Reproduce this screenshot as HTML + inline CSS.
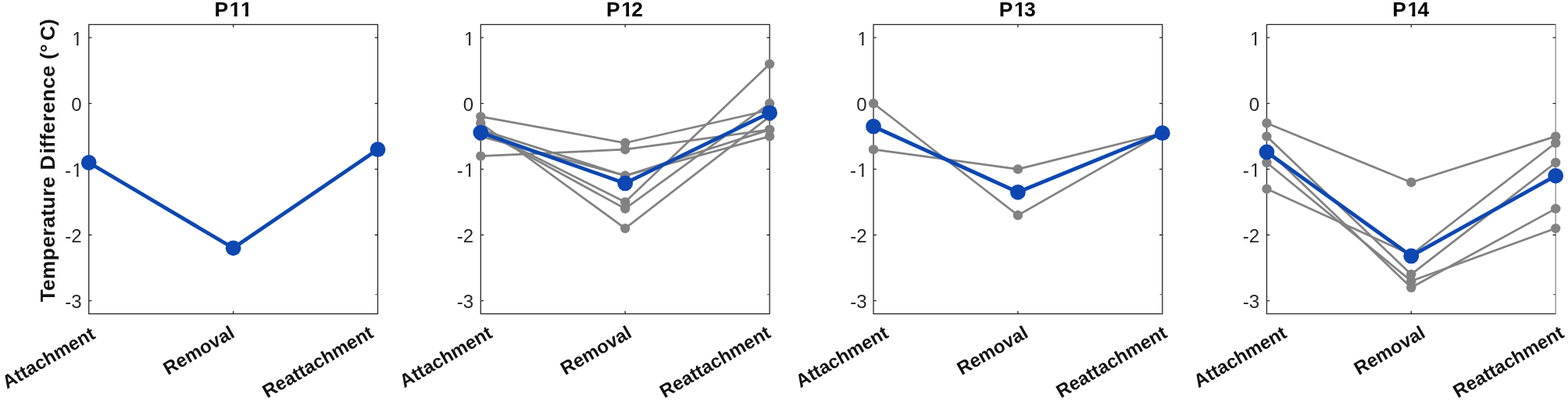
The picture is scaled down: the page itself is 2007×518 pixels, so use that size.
<!DOCTYPE html>
<html lang="en">
<head>
<meta charset="utf-8">
<title>Temperature Difference P11-P14</title>
<style>
html,body{margin:0;padding:0;background:#fff;}
body{width:2007px;height:518px;overflow:hidden;}
svg{display:block;}
text{font-family:"Liberation Sans",sans-serif;}
.tk{font-size:24px;fill:#262626;}
.tt{font-size:26.4px;font-weight:bold;fill:#000;}
.xt{font-size:24px;font-weight:bold;fill:#111;}
.yl{font-size:26.4px;font-weight:bold;fill:#111;}
.ax{stroke:#262626;stroke-width:1.3;fill:none;}
.g{stroke:#828282;stroke-width:2.7;fill:none;stroke-linejoin:round;}
.gd{fill:#828282;}
.b{stroke:#0d47b1;stroke-width:4.8;fill:none;stroke-linejoin:round;}
.bd{fill:#0d47b1;}
</style>
</head>
<body>
<svg width="2007" height="518" viewBox="0 0 2007 518">
<defs>
<clipPath id="k1r" clipPathUnits="userSpaceOnUse"><path d="M-1 -20H14V-2.6H8.4V1H5.8V-2.6H-1Z"/></clipPath>
<clipPath id="km1" clipPathUnits="userSpaceOnUse"><path d="M-1 -20H24V-2.6H17.5V1H14.9V-2.6H-1Z"/></clipPath>
<clipPath id="kt1x" clipPathUnits="userSpaceOnUse"><path d="M-1 -22H50V6H33.05V-3.5H29.2V1H25.1V-3.5H19.4V6H-1Z"/></clipPath>
<clipPath id="kt14" clipPathUnits="userSpaceOnUse"><path d="M-1 -22H50V6H38V-3.5H29.2V1H25.1V-3.5H19.4V6H-1Z"/></clipPath>
<clipPath id="kt11" clipPathUnits="userSpaceOnUse"><path d="M-1 -22H50V-3.5H43.4V1H39.3V-3.5H29.2V1H25.1V-3.5H19.4V6H-1Z"/></clipPath>
</defs>
<rect x="0" y="0" width="2007" height="518" fill="#ffffff"/>
<text class="yl" transform="translate(70.2 0) rotate(-90)"><tspan x="-386.3" letter-spacing="0.25">Temperature</tspan> <tspan x="-217.4">D</tspan><tspan x="-196.6" letter-spacing="0.35">ifference</tspan> <tspan x="-76.0">(</tspan><tspan x="-67.0">°</tspan><tspan x="-52.1">C</tspan><tspan x="-32.9">)</tspan></text>
<g>
<text class="tt" transform="translate(274.5 21.4)" clip-path="url(#kt11)">P<tspan x="19.2">1</tspan><tspan x="33.4">1</tspan></text>
<rect class="ax" x="113.7" y="31.4" width="369.8" height="370.0"/>
<path class="ax" d="M113.7 48.2h3.7 M483.5 48.2h-3.7 M113.7 132.3h3.7 M483.5 132.3h-3.7 M113.7 216.4h3.7 M483.5 216.4h-3.7 M113.7 300.5h3.7 M483.5 300.5h-3.7 M113.7 384.6h3.7 M298.6 401.4v-3.7 M298.6 31.4v3.7"/>
<path class="ax" style="stroke:#6a6a6a" d="M483.5 376.6h-3.2"/>
<text class="tk" transform="translate(92.2 57.6)" clip-path="url(#k1r)">1</text>
<text class="tk" x="104.5" y="141.7" text-anchor="end">0</text>
<text class="tk" transform="translate(83.1 225.8)" clip-path="url(#km1)">-<tspan x="9.1">1</tspan></text>
<text class="tk" x="104.5" y="309.9" text-anchor="end">-2</text>
<text class="tk" x="104.5" y="394.0" text-anchor="end">-3</text>
<text class="xt" transform="translate(114.7 416.7) rotate(-30)" text-anchor="end" dy="0.72em">Attachment</text>
<text class="xt" transform="translate(293.1 415.2) rotate(-30)" text-anchor="end" dy="0.72em">Removal</text>
<text class="xt" transform="translate(470.9 415.2) rotate(-30)" text-anchor="end" dy="0.72em">Reattachment</text>
<polyline class="b" points="113.7,208.0 298.6,317.3 483.5,191.2"/>
<circle class="bd" cx="113.7" cy="208.0" r="9.9"/>
<circle class="bd" cx="298.6" cy="317.3" r="9.9"/>
<circle class="bd" cx="483.5" cy="191.2" r="9.9"/>
</g>
<g>
<text class="tt" transform="translate(776.1 21.4)" clip-path="url(#kt1x)">P<tspan x="19.2">1</tspan><tspan x="32.2">2</tspan></text>
<rect class="ax" x="615.3" y="31.4" width="369.8" height="370.0"/>
<path class="ax" d="M615.3 48.2h3.7 M985.1 48.2h-3.7 M615.3 132.3h3.7 M985.1 132.3h-3.7 M615.3 216.4h3.7 M985.1 216.4h-3.7 M615.3 300.5h3.7 M985.1 300.5h-3.7 M615.3 384.6h3.7 M800.2 401.4v-3.7 M800.2 31.4v3.7"/>
<path class="ax" style="stroke:#6a6a6a" d="M985.1 376.6h-3.2"/>
<text class="tk" transform="translate(593.9 57.6)" clip-path="url(#k1r)">1</text>
<text class="tk" x="606.2" y="141.7" text-anchor="end">0</text>
<text class="tk" transform="translate(584.8 225.8)" clip-path="url(#km1)">-<tspan x="9.1">1</tspan></text>
<text class="tk" x="606.2" y="309.9" text-anchor="end">-2</text>
<text class="tk" x="606.2" y="394.0" text-anchor="end">-3</text>
<text class="xt" transform="translate(623.1 415.5) rotate(-30)" text-anchor="end" dy="0.72em">Attachment</text>
<text class="xt" transform="translate(801.4 415.2) rotate(-30)" text-anchor="end" dy="0.72em">Removal</text>
<text class="xt" transform="translate(979.4 415.2) rotate(-30)" text-anchor="end" dy="0.72em">Reattachment</text>
<polyline class="g" points="615.3,149.1 800.2,182.8 985.1,140.7"/>
<polyline class="g" points="615.3,199.6 800.2,191.2 985.1,165.9"/>
<polyline class="g" points="615.3,165.9 800.2,224.8 985.1,165.9"/>
<polyline class="g" points="615.3,174.4 800.2,224.8 985.1,174.4"/>
<polyline class="g" points="615.3,165.9 800.2,258.4 985.1,81.9"/>
<polyline class="g" points="615.3,165.9 800.2,266.9 985.1,132.3"/>
<polyline class="g" points="615.3,157.5 800.2,292.1 985.1,149.1"/>
<circle class="gd" cx="615.3" cy="149.1" r="6.2"/>
<circle class="gd" cx="800.2" cy="182.8" r="6.2"/>
<circle class="gd" cx="985.1" cy="140.7" r="6.2"/>
<circle class="gd" cx="615.3" cy="199.6" r="6.2"/>
<circle class="gd" cx="800.2" cy="191.2" r="6.2"/>
<circle class="gd" cx="985.1" cy="165.9" r="6.2"/>
<circle class="gd" cx="615.3" cy="165.9" r="6.2"/>
<circle class="gd" cx="800.2" cy="224.8" r="6.2"/>
<circle class="gd" cx="985.1" cy="165.9" r="6.2"/>
<circle class="gd" cx="615.3" cy="174.4" r="6.2"/>
<circle class="gd" cx="800.2" cy="224.8" r="6.2"/>
<circle class="gd" cx="985.1" cy="174.4" r="6.2"/>
<circle class="gd" cx="615.3" cy="165.9" r="6.2"/>
<circle class="gd" cx="800.2" cy="258.4" r="6.2"/>
<circle class="gd" cx="985.1" cy="81.9" r="6.2"/>
<circle class="gd" cx="615.3" cy="165.9" r="6.2"/>
<circle class="gd" cx="800.2" cy="266.9" r="6.2"/>
<circle class="gd" cx="985.1" cy="132.3" r="6.2"/>
<circle class="gd" cx="615.3" cy="157.5" r="6.2"/>
<circle class="gd" cx="800.2" cy="292.1" r="6.2"/>
<circle class="gd" cx="985.1" cy="149.1" r="6.2"/>
<polyline class="b" points="615.3,169.6 800.2,234.4 985.1,144.3"/>
<circle class="bd" cx="615.3" cy="169.6" r="9.9"/>
<circle class="bd" cx="800.2" cy="234.4" r="9.9"/>
<circle class="bd" cx="985.1" cy="144.3" r="9.9"/>
</g>
<g>
<text class="tt" transform="translate(1278.8 21.4)" clip-path="url(#kt1x)">P<tspan x="19.2">1</tspan><tspan x="32.2">3</tspan></text>
<rect class="ax" x="1118.0" y="31.4" width="369.8" height="370.0"/>
<path class="ax" d="M1118.0 48.2h3.7 M1487.8 48.2h-3.7 M1118.0 132.3h3.7 M1487.8 132.3h-3.7 M1118.0 216.4h3.7 M1487.8 216.4h-3.7 M1118.0 300.5h3.7 M1487.8 300.5h-3.7 M1118.0 384.6h3.7 M1302.9 401.4v-3.7 M1302.9 31.4v3.7"/>
<path class="ax" style="stroke:#6a6a6a" d="M1487.8 376.6h-3.2"/>
<text class="tk" transform="translate(1097.2 57.6)" clip-path="url(#k1r)">1</text>
<text class="tk" x="1109.5" y="141.7" text-anchor="end">0</text>
<text class="tk" transform="translate(1088.1 225.8)" clip-path="url(#km1)">-<tspan x="9.1">1</tspan></text>
<text class="tk" x="1109.5" y="309.9" text-anchor="end">-2</text>
<text class="tk" x="1109.5" y="394.0" text-anchor="end">-3</text>
<text class="xt" transform="translate(1130.1 415.5) rotate(-30)" text-anchor="end" dy="0.72em">Attachment</text>
<text class="xt" transform="translate(1309.0 415.2) rotate(-30)" text-anchor="end" dy="0.72em">Removal</text>
<text class="xt" transform="translate(1486.8 415.2) rotate(-30)" text-anchor="end" dy="0.72em">Reattachment</text>
<polyline class="g" points="1118.0,132.3 1302.9,275.3 1487.8,170.2"/>
<polyline class="g" points="1118.0,191.2 1302.9,216.4 1487.8,170.2"/>
<circle class="gd" cx="1118.0" cy="132.3" r="6.2"/>
<circle class="gd" cx="1302.9" cy="275.3" r="6.2"/>
<circle class="gd" cx="1487.8" cy="170.2" r="6.2"/>
<circle class="gd" cx="1118.0" cy="191.2" r="6.2"/>
<circle class="gd" cx="1302.9" cy="216.4" r="6.2"/>
<circle class="gd" cx="1487.8" cy="170.2" r="6.2"/>
<polyline class="b" points="1118.0,161.7 1302.9,245.8 1487.8,170.2"/>
<circle class="bd" cx="1118.0" cy="161.7" r="9.9"/>
<circle class="bd" cx="1302.9" cy="245.8" r="9.9"/>
<circle class="bd" cx="1487.8" cy="170.2" r="9.9"/>
</g>
<g>
<text class="tt" transform="translate(1782.2 21.4)" clip-path="url(#kt14)">P<tspan x="19.2">1</tspan><tspan x="32.2">4</tspan></text>
<path class="ax" d="M1991.2 31.4H1621.4V401.4H1991.2"/>
<path class="ax" stroke="#8a8a8a" style="stroke:#8a8a8a" d="M1991.2 30.8V402.0"/>
<path class="ax" d="M1621.4 48.2h3.7 M1991.2 48.2h-3.7 M1621.4 132.3h3.7 M1991.2 132.3h-3.7 M1621.4 216.4h3.7 M1991.2 216.4h-3.7 M1621.4 300.5h3.7 M1991.2 300.5h-3.7 M1621.4 384.6h3.7 M1806.3 401.4v-3.7 M1806.3 31.4v3.7"/>
<path class="ax" style="stroke:#6a6a6a" d="M1991.2 376.6h-3.2"/>
<text class="tk" transform="translate(1599.9 57.6)" clip-path="url(#k1r)">1</text>
<text class="tk" x="1612.2" y="141.7" text-anchor="end">0</text>
<text class="tk" transform="translate(1590.8 225.8)" clip-path="url(#km1)">-<tspan x="9.1">1</tspan></text>
<text class="tk" x="1612.2" y="309.9" text-anchor="end">-2</text>
<text class="tk" x="1612.2" y="394.0" text-anchor="end">-3</text>
<text class="xt" transform="translate(1639.7 415.5) rotate(-30)" text-anchor="end" dy="0.72em">Attachment</text>
<text class="xt" transform="translate(1817.2 415.2) rotate(-30)" text-anchor="end" dy="0.72em">Removal</text>
<text class="xt" transform="translate(1994.7 415.2) rotate(-30)" text-anchor="end" dy="0.72em">Reattachment</text>
<polyline class="g" points="1621.4,157.5 1806.3,233.2 1991.2,174.4"/>
<polyline class="g" points="1621.4,241.6 1806.3,325.7 1991.2,182.8"/>
<polyline class="g" points="1621.4,174.4 1806.3,350.9 1991.2,208.0"/>
<polyline class="g" points="1621.4,191.2 1806.3,367.8 1991.2,266.9"/>
<polyline class="g" points="1621.4,208.0 1806.3,359.4 1991.2,292.1"/>
<circle class="gd" cx="1621.4" cy="157.5" r="6.2"/>
<circle class="gd" cx="1806.3" cy="233.2" r="6.2"/>
<circle class="gd" cx="1991.2" cy="174.4" r="6.2"/>
<circle class="gd" cx="1621.4" cy="241.6" r="6.2"/>
<circle class="gd" cx="1806.3" cy="325.7" r="6.2"/>
<circle class="gd" cx="1991.2" cy="182.8" r="6.2"/>
<circle class="gd" cx="1621.4" cy="174.4" r="6.2"/>
<circle class="gd" cx="1806.3" cy="350.9" r="6.2"/>
<circle class="gd" cx="1991.2" cy="208.0" r="6.2"/>
<circle class="gd" cx="1621.4" cy="191.2" r="6.2"/>
<circle class="gd" cx="1806.3" cy="367.8" r="6.2"/>
<circle class="gd" cx="1991.2" cy="266.9" r="6.2"/>
<circle class="gd" cx="1621.4" cy="208.0" r="6.2"/>
<circle class="gd" cx="1806.3" cy="359.4" r="6.2"/>
<circle class="gd" cx="1991.2" cy="292.1" r="6.2"/>
<polyline class="b" points="1621.4,194.5 1806.3,327.4 1991.2,224.8"/>
<circle class="bd" cx="1621.4" cy="194.5" r="9.9"/>
<circle class="bd" cx="1806.3" cy="327.4" r="9.9"/>
<circle class="bd" cx="1991.2" cy="224.8" r="9.9"/>
</g>
</svg>
</body>
</html>
